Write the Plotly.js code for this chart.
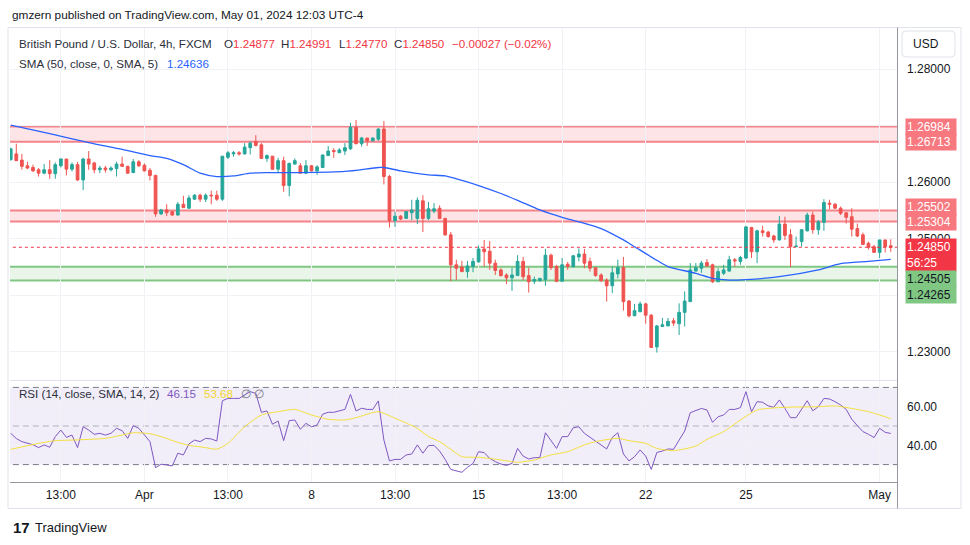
<!DOCTYPE html>
<html><head><meta charset="utf-8">
<script src="https://cdn.plot.ly/plotly-3.0.1.min.js"></script>
<style>html,body{margin:0;padding:0;background:#fff;}#chart{width:970px;height:545px;}</style>
</head><body><div id="chart"></div>
<script>
// ---------------- DATA (GBP/USD 4h, FXCM) ----------------
const tickIdx  = [9, 24, 39, 54, 69, 84, 99, 114, 132, 156];
const tickText = ['13:00','Apr','13:00','8','13:00','15','13:00','22','25','May'];

const open = [
1.2640,1.2650,1.2639,1.2629,1.2626,1.2622,1.2616,1.2622,1.2615,1.2629,
1.2641,1.2623,1.2631,1.2604,1.2641,1.2634,1.2622,1.2625,1.2622,1.2624,
1.2632,1.2628,1.2617,1.2636,1.2630,1.2621,1.2612,1.2544,1.2551,1.2548,
1.2542,1.2561,1.2554,1.2570,1.2577,1.2570,1.2577,1.2577,1.2570,1.2644,
1.2650,1.2652,1.2650,1.2661,1.2672,1.2666,1.2642,1.2646,1.2623,1.2638,
1.2594,1.2632,1.2629,1.2616,1.2629,1.2620,1.2626,1.2647,1.2656,1.2652,
1.2655,1.2659,1.2697,1.2668,1.2678,1.2673,1.2676,1.2694,1.2610,1.2532,
1.2540,1.2536,1.2546,1.2536,1.2567,1.2536,1.2549,1.2554,1.2536,1.2507,
1.2454,1.2450,1.2442,1.2451,1.2459,1.2482,1.2478,1.2457,1.2445,1.2436,
1.2431,1.2435,1.2460,1.2435,1.2425,1.2426,1.2428,1.2471,1.2451,1.2425,
1.2455,1.2451,1.2468,1.2473,1.2460,1.2449,1.2436,1.2427,1.2417,1.2438,
1.2449,1.2390,1.2364,1.2371,1.2385,1.2365,1.2309,1.2345,1.2346,1.2355,
1.2350,1.2370,1.2389,1.2443,1.2448,1.2458,1.2454,1.2424,1.2439,1.2443,
1.2463,1.2460,1.2466,1.2520,1.2477,1.2514,1.2512,1.2505,1.2498,1.2526,
1.2507,1.2486,1.2495,1.2514,1.2542,1.2516,1.2529,1.2563,1.2561,1.2554,
1.2546,1.2539,1.2518,1.2507,1.2492,1.2486,1.2476,1.2498,1.24877];
const high = [
1.2661,1.2668,1.2650,1.2636,1.2631,1.2625,1.2632,1.2639,1.2635,1.2642,
1.2641,1.2635,1.2636,1.2643,1.2655,1.2636,1.2629,1.2629,1.2628,1.2636,
1.2645,1.2629,1.2641,1.2639,1.2633,1.2625,1.2613,1.2553,1.2561,1.2549,
1.2565,1.2576,1.2577,1.2579,1.2580,1.2580,1.2585,1.2585,1.2646,1.2655,
1.2655,1.2655,1.2669,1.2672,1.2683,1.2669,1.2649,1.2646,1.2643,1.2645,
1.2635,1.2642,1.2634,1.2639,1.2630,1.2630,1.2649,1.2664,1.2660,1.2660,
1.2669,1.2705,1.2710,1.2680,1.2678,1.2679,1.2695,1.2708,1.2613,1.2548,
1.2542,1.2548,1.2569,1.2573,1.2577,1.2565,1.2563,1.2559,1.2537,1.2512,
1.2463,1.2461,1.2461,1.2466,1.2488,1.2498,1.2496,1.2463,1.2448,1.2439,
1.2449,1.2471,1.2468,1.2449,1.2433,1.2431,1.2482,1.2474,1.2454,1.2466,
1.2459,1.2471,1.2483,1.2482,1.2467,1.2449,1.2439,1.2430,1.2451,1.2463,
1.2468,1.2392,1.2385,1.2389,1.2387,1.2367,1.2348,1.2360,1.2360,1.2360,
1.2386,1.2407,1.2457,1.2457,1.2461,1.2464,1.2456,1.2448,1.2454,1.2470,
1.2466,1.2470,1.2523,1.2521,1.2516,1.2523,1.2514,1.2507,1.2540,1.2539,
1.2517,1.2504,1.2517,1.2546,1.2548,1.2533,1.2570,1.2569,1.2563,1.2557,
1.2546,1.2554,1.2527,1.2511,1.2495,1.2489,1.2498,1.2498,1.24991];
const low = [
1.2638,1.2638,1.2622,1.2623,1.2618,1.2610,1.2614,1.2606,1.2606,1.2626,
1.2612,1.2619,1.2602,1.2586,1.2622,1.2616,1.2616,1.2617,1.2619,1.2610,
1.2627,1.2615,1.2616,1.2627,1.2619,1.2603,1.2539,1.2542,1.2540,1.2541,
1.2541,1.2555,1.2553,1.2569,1.2565,1.2565,1.2561,1.2567,1.2567,1.2641,
1.2645,1.2647,1.2649,1.2649,1.2663,1.2641,1.2636,1.2622,1.2616,1.2583,
1.2575,1.2631,1.2615,1.2615,1.2619,1.2613,1.2625,1.2647,1.2643,1.2652,
1.2648,1.2657,1.2667,1.2663,1.2664,1.2672,1.2673,1.2596,1.2520,1.2521,
1.2533,1.2536,1.2533,1.2526,1.2512,1.2533,1.2545,1.2535,1.2505,1.2425,
1.2427,1.2442,1.2431,1.2441,1.2459,1.2451,1.2445,1.2436,1.2433,1.2420,
1.2408,1.2435,1.2427,1.2405,1.2420,1.2424,1.2417,1.2445,1.2423,1.2425,
1.2445,1.2449,1.2460,1.2448,1.2442,1.2433,1.2424,1.2389,1.2404,1.2430,
1.2373,1.2361,1.2364,1.2371,1.2350,1.2307,1.2299,1.2345,1.2346,1.2346,
1.2330,1.2345,1.2389,1.2442,1.2440,1.2451,1.2422,1.2424,1.2436,1.2442,
1.2451,1.2454,1.2464,1.2466,1.2457,1.2504,1.2502,1.2493,1.2497,1.2498,
1.2450,1.2486,1.2486,1.2513,1.2509,1.2507,1.2514,1.2552,1.2553,1.2542,
1.2527,1.2504,1.2503,1.2490,1.2481,1.2475,1.2466,1.2476,1.24770];
const close = [
1.2659,1.2638,1.2628,1.2625,1.2620,1.2616,1.2622,1.2615,1.2631,1.2641,
1.2623,1.2631,1.2604,1.2641,1.2632,1.2622,1.2625,1.2622,1.2625,1.2632,
1.2628,1.2616,1.2636,1.2629,1.2620,1.2612,1.2544,1.2551,1.2546,1.2542,
1.2561,1.2555,1.2572,1.2577,1.2570,1.2577,1.2576,1.2570,1.2646,1.2652,
1.2652,1.2650,1.2662,1.2669,1.2665,1.2642,1.2647,1.2623,1.2638,1.2594,
1.2633,1.2638,1.2616,1.2629,1.2620,1.2627,1.2648,1.2655,1.2654,1.2657,
1.2661,1.2697,1.2668,1.2678,1.2673,1.2678,1.2694,1.2610,1.2532,1.2540,
1.2535,1.2548,1.2551,1.2568,1.2536,1.2553,1.2553,1.2536,1.2507,1.2454,
1.2448,1.2442,1.2452,1.2460,1.2482,1.2477,1.2457,1.2444,1.2435,1.2431,
1.2436,1.2460,1.2433,1.2424,1.2428,1.2430,1.2471,1.2449,1.2425,1.2454,
1.2451,1.2470,1.2473,1.2457,1.2448,1.2435,1.2426,1.2417,1.2440,1.2449,
1.2389,1.2364,1.2373,1.2385,1.2365,1.2308,1.2346,1.2348,1.2354,1.2351,
1.2370,1.2390,1.2445,1.2449,1.2457,1.2452,1.2424,1.2442,1.2445,1.2463,
1.2461,1.2467,1.2521,1.2477,1.2514,1.2511,1.2504,1.2498,1.2526,1.2506,
1.2486,1.2487,1.2516,1.2542,1.2516,1.2530,1.2564,1.2561,1.2554,1.2545,
1.2538,1.2517,1.2505,1.2490,1.2485,1.2476,1.2498,1.2486,1.24850];

// SMA(50) at selected candles
const smaIdx = [0,7,14,20,25,28,31,34,37,40,43,46,52,60,66,67,70,75,78,81,84,88,91,95,99,102,106,110,112,116,118,123,126,129,132,138,145,149,154,158];
const smaVal = [1.2701,1.2686,1.2670,1.2658,1.2647,1.2642,1.2631,1.2616,1.2610,1.2611,1.2616,1.2617,1.2617,1.2619,1.2626,1.2626,1.2620,1.2613,1.2611,1.2603,1.2594,1.2580,1.2568,1.2551,1.2538,1.2530,1.2518,1.2498,1.2486,1.2462,1.2451,1.2439,1.2430,1.2427,1.2428,1.2433,1.2445,1.2456,1.2460,1.24636];

// RSI(14) per candle
const rsi = [
46.2,43.5,41.9,41.0,40.3,38.8,40.2,39.0,44.5,47.9,
44.1,45.3,38.8,49.6,47.9,45.7,46.2,45.3,46.2,48.8,
47.6,43.6,50.2,48.8,45.3,41.9,28.4,30.2,29.8,29.3,
35.9,35.0,40.7,42.7,41.9,43.6,43.3,42.2,63.1,64.3,
64.3,64.3,66.1,67.8,66.9,57.1,57.8,50.9,52.6,42.4,
52.8,53.1,48.3,51.4,49.6,50.5,56.1,57.1,57.1,57.8,
58.6,66.4,57.8,59.2,58.6,58.6,63.0,42.7,31.9,32.7,
32.7,35.0,35.5,40.2,35.9,39.8,40.0,37.0,32.7,27.5,
26.8,26.0,28.6,30.6,36.7,36.2,33.2,31.5,30.3,29.6,
30.6,38.4,34.4,32.9,33.6,33.6,46.5,42.7,38.4,44.5,
44.5,49.1,49.6,46.2,44.1,41.9,39.8,38.1,44.1,46.5,
35.5,31.9,34.1,37.6,34.4,27.5,36.3,37.0,38.1,37.9,
42.7,47.4,56.9,57.8,59.1,58.3,51.9,54.8,55.7,58.6,
58.6,59.5,67.8,57.4,62.6,62.3,60.4,59.7,63.5,59.1,
54.3,54.3,58.6,63.1,57.9,60.0,64.3,64.0,62.6,60.9,
58.6,53.5,50.2,47.1,45.7,44.0,48.8,46.7,46.15];

// RSI-based SMA(14), read at selected candles
const rsiMaIdx = [0,5,8,11,17,20,22,25,27,30,32,35,37,39,42,45,48,51,54,57,60,62,66,69,73,75,77,79,81,84,88,91,94,97,100,103,105,109,111,114,116,119,123,125,128,131,134,139,145,148,151,154,157,158];
const rsiMaVal = [37.9,41.0,42.4,42.7,43.6,45.3,46.5,46.0,44.5,41.5,40.0,38.8,38.0,41.0,49.6,55.7,57.4,58.6,55.7,53.5,53.1,54.3,57.4,54.0,48.8,44.5,41.9,37.9,34.1,33.8,32.4,31.2,32.4,35.0,36.7,40.2,41.9,43.6,42.4,41.0,38.4,37.2,39.6,43.1,47.1,53.1,58.3,59.7,60.0,60.4,59.1,57.4,54.8,53.68];

// Horizontal zones
const resistLow  = [1.26713, 1.25304];
const resistHigh = [1.26984, 1.25502];
const supportLow  = [1.24265];
const supportHigh = [1.24505];

// ---------------- GEOMETRY / STYLE ----------------
const L = 10, R = 897, T = 27, B = 482;
const px = x => (x - L) / (R - L);
const py = y => (B - y) / (B - T);
const FONT = 'Liberation Sans, Arial, sans-serif';
const TXT = '#131722', GRID = '#f0f2f6';
const UP = '#26a69a', DN = '#ef5350';
const idx = open.map((_, i) => i);
const last = close.length - 1;
const lastClose = close[last];
const fmt = v => v.toFixed(5);

const traces = [
  {type:'candlestick', x:idx, open:open, high:high, low:low, close:close,
   xaxis:'x', yaxis:'y', whiskerwidth:0, hoverinfo:'skip',
   increasing:{line:{color:UP,width:1}, fillcolor:UP},
   decreasing:{line:{color:DN,width:1}, fillcolor:DN}},
  {type:'scatter', mode:'lines', x:smaIdx, y:smaVal, xaxis:'x', yaxis:'y', hoverinfo:'skip',
   line:{color:'#2962ff', width:1.3, shape:'spline', smoothing:0.7}},
  {type:'scatter', mode:'lines', x:idx, y:rsi, xaxis:'x', yaxis:'y2', hoverinfo:'skip',
   line:{color:'#7e57c2', width:1}},
  {type:'scatter', mode:'lines', x:rsiMaIdx, y:rsiMaVal, xaxis:'x', yaxis:'y2', hoverinfo:'skip',
   line:{color:'#f4df3a', width:1, shape:'spline', smoothing:0.6}}
];

const shapes = [];
function zone(lo, hi, fill, line) {
  shapes.push({type:'rect', xref:'x', yref:'y', x0:-5, x1:200, y0:lo, y1:hi, fillcolor:fill, line:{width:0}, layer:'below'});
  [lo, hi].forEach(v => shapes.push({type:'line', xref:'x', yref:'y', x0:-5, x1:200, y0:v, y1:v, line:{color:line, width:2}, layer:'below'}));
}
resistLow.forEach((lo, k) => zone(lo, resistHigh[k], 'rgba(242,54,69,0.13)', '#f5838a'));
supportLow.forEach((lo, k) => zone(lo, supportHigh[k], 'rgba(76,175,80,0.13)', '#81c784'));
shapes.push({type:'line', xref:'x', yref:'y', x0:-5, x1:200, y0:lastClose, y1:lastClose, line:{color:'#f23645', width:1, dash:'dot'}});
// RSI band and levels
shapes.push({type:'rect', xref:'x', yref:'y2', x0:-5, x1:200, y0:30, y1:70, fillcolor:'rgba(126,87,194,0.1)', line:{width:0}, layer:'below'});
[[70,'#787b86'],[50,'#aeb1ba'],[30,'#787b86']].forEach(([v,c]) =>
  shapes.push({type:'line', xref:'x', yref:'y2', x0:-5, x1:200, y0:v, y1:v, line:{color:c, width:1, dash:'6px,4px'}, layer:'below'}));
// pane separator, frame, price-scale border
shapes.push({type:'line', xref:'paper', yref:'paper', x0:0, x1:1, y0:py(380.5), y1:py(380.5), line:{color:'#e0e3eb', width:1}});
shapes.push({type:'rect', xref:'paper', yref:'paper', x0:px(8), x1:px(961), y0:py(27.5), y1:py(508.5), line:{color:'#e0e3eb', width:1}, fillcolor:'rgba(0,0,0,0)'});
shapes.push({type:'line', xref:'paper', yref:'paper', x0:px(897.5), x1:px(897.5), y0:py(27.5), y1:py(508.5), line:{color:'#9598a1', width:1}});
// USD button
(function(){
  const x0=px(902), x1=px(955), y0=py(57), y1=py(31), rx=4/(R-L), ry=4/(B-T);
  const p = `M ${x0+rx},${y0} L ${x1-rx},${y0} Q ${x1},${y0} ${x1},${y0+ry} L ${x1},${y1-ry} Q ${x1},${y1} ${x1-rx},${y1} L ${x0+rx},${y1} Q ${x0},${y1} ${x0},${y1-ry} L ${x0},${y0+ry} Q ${x0},${y0} ${x0+rx},${y0} Z`;
  shapes.push({type:'path', xref:'paper', yref:'paper', path:p, line:{color:'#e0e3eb', width:1}, fillcolor:'#ffffff'});
})();

const ann = [];
function txt(x, y, text, size, color, extra) {
  ann.push(Object.assign({xref:'paper', yref:'paper', x:px(x), y:py(y), xanchor:'left', yanchor:'middle',
    text:text, showarrow:false, font:{family:FONT, size:size, color:color}}, extra||{}));
}
const red = s => `<span style="color:#f23645">${s}</span>`;
const LS = 11.6;
txt(10, 15, 'gmzern published on TradingView.com, May 01, 2024 12:03 UTC-4', 11.8, TXT);
txt(17, 44, 'British Pound / U.S. Dollar, 4h, FXCM', LS, '#2a2e39');
txt(222, 44, 'O' + red(fmt(open[last])), LS, '#2a2e39');
txt(279, 44, 'H' + red(fmt(high[last])), LS, '#2a2e39');
txt(337, 44, 'L' + red(fmt(low[last])), LS, '#2a2e39');
txt(392, 44, 'C' + red(fmt(lastClose)), LS, '#2a2e39');
const chg = lastClose - open[last];
txt(450, 44, red('\u2212' + Math.abs(chg).toFixed(5) + ' (\u2212' + Math.abs(chg/open[last]*100).toFixed(2) + '%)'), LS, '#f23645');
txt(17, 63, 'SMA (50, close, 0, SMA, 5)', LS, '#2a2e39');
txt(165, 63, `<span style="color:#2962ff">${fmt(smaVal[smaVal.length-1])}</span>`, LS, '#2962ff');
txt(17, 393, 'RSI (14, close, SMA, 14, 2)', LS, '#2a2e39');
txt(165, 393, rsi[last].toFixed(2), LS, '#7e57c2');
txt(202, 393, rsiMaVal[rsiMaVal.length-1].toFixed(2), LS, '#f2d42c');
txt(239, 393, '\u2205 \u2205', LS, '#787b86');
txt(911, 44, 'USD', 12, TXT);
txt(33, 527, 'TradingView', 13, TXT);
txt(11, 527, '<b>17</b>', 15, '#131722');

// price-scale labels
function plabel(v, bg, color, yshift, text) {
  ann.push({xref:'paper', yref:'y', x:px(905), y:v, xanchor:'left', yanchor:'middle', yshift:yshift||0,
    text:text || fmt(v), showarrow:false, bgcolor:bg, borderpad:1, width:48, align:'left',
    font:{family:FONT, size:12, color:color}});
}
plabel(resistHigh[0], '#f7797f', '#ffffff', 0);
plabel(resistLow[0], '#f7797f', '#ffffff', 0);
plabel(resistHigh[1], '#f7797f', '#ffffff', 3);
plabel(resistLow[1], '#f7797f', '#ffffff', 0);
plabel(lastClose, '#f23645', '#ffffff', -7.5, fmt(lastClose) + '<br>56:25');
plabel(supportHigh[0], '#81c784', TXT, -12);
plabel(supportLow[0], '#81c784', TXT, -15);

const layout = {
  width:970, height:545, margin:{l:L, r:970-R, t:T, b:545-B},
  paper_bgcolor:'#ffffff', plot_bgcolor:'#ffffff', showlegend:false, hovermode:false,
  font:{family:FONT, color:TXT},
  xaxis:{domain:[0,1], range:[-0.13,159.12], anchor:'y2', tickvals:tickIdx, ticktext:tickText,
    showgrid:true, gridcolor:GRID, zeroline:false, showline:true, linecolor:'#9598a1', linewidth:1,
    ticks:'', ticklabelstandoff:2, tickfont:{family:FONT, size:12, color:TXT}, rangeslider:{visible:false}, fixedrange:true},
  yaxis:{domain:[py(380),1], range:[1.22505,1.28742], side:'right', anchor:'x',
    tickvals:[1.23,1.24,1.25,1.26,1.27,1.28], ticktext:['1.23000','','1.25000','1.26000','','1.28000'],
    showgrid:true, gridcolor:GRID, zeroline:false, ticks:'', ticklabelstandoff:9,
    tickfont:{family:FONT, size:12, color:TXT}, fixedrange:true},
  yaxis2:{domain:[0,py(381)], range:[20.98,73.32], side:'right', anchor:'x',
    tickvals:[40,60], ticktext:['40.00','60.00'], showgrid:true, gridcolor:GRID, zeroline:false,
    ticks:'', ticklabelstandoff:9, tickfont:{family:FONT, size:12, color:TXT}, fixedrange:true},
  shapes:shapes, annotations:ann
};
Plotly.newPlot('chart', traces, layout, {displayModeBar:false, staticPlot:true});
</script></body></html>
